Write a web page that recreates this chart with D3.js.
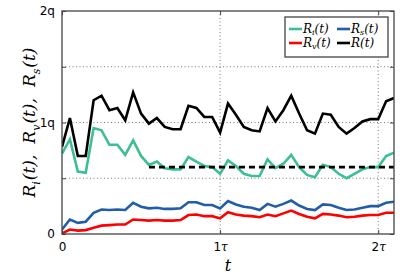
<!DOCTYPE html>
<html>
<head>
<meta charset="utf-8">
<script src="https://cdn.jsdelivr.net/npm/d3@7"></script>
<style>
  body { margin: 0; background: #fff; }
  .tick text { font-family: "DejaVu Sans", sans-serif; font-size: 12px; fill: #000; }
  .math { font-family: "DejaVu Serif", serif; font-style: italic; }
</style>
</head>
<body>
<svg id="chart"></svg>
<script>
// time steps (in units of tau)
const tValues = d3.range(0, 43).map((i) => +(i * 0.05).toFixed(2));

// series values, in units of q
const rTotal = [0.78, 1.04, 0.70, 0.70, 1.20, 1.24, 1.11, 1.13, 1.02, 1.27, 1.08, 0.99, 1.04, 0.96, 0.94, 0.94, 1.15, 1.13, 1.05, 1.05, 0.91, 1.17, 1.07, 0.96, 0.93, 0.92, 1.13, 1.01, 1.11, 1.24, 1.08, 0.93, 0.90, 1.08, 1.07, 0.96, 0.90, 0.95, 1.01, 1.03, 1.03, 1.19, 1.22];
const rI = [0.72, 0.85, 0.56, 0.55, 0.95, 0.93, 0.80, 0.80, 0.71, 0.84, 0.70, 0.62, 0.65, 0.59, 0.58, 0.58, 0.69, 0.65, 0.61, 0.60, 0.54, 0.66, 0.61, 0.54, 0.52, 0.52, 0.67, 0.59, 0.63, 0.71, 0.60, 0.53, 0.51, 0.62, 0.60, 0.54, 0.50, 0.54, 0.58, 0.60, 0.60, 0.70, 0.73];
const rS = [0.04, 0.13, 0.10, 0.11, 0.19, 0.22, 0.215, 0.22, 0.215, 0.28, 0.245, 0.23, 0.235, 0.225, 0.225, 0.23, 0.285, 0.285, 0.26, 0.26, 0.23, 0.295, 0.265, 0.245, 0.235, 0.215, 0.27, 0.245, 0.27, 0.30, 0.255, 0.225, 0.215, 0.265, 0.26, 0.235, 0.215, 0.22, 0.235, 0.25, 0.25, 0.28, 0.29];
const rV = [0.005, 0.04, 0.03, 0.035, 0.055, 0.075, 0.08, 0.085, 0.085, 0.13, 0.125, 0.12, 0.125, 0.12, 0.12, 0.125, 0.17, 0.175, 0.16, 0.16, 0.14, 0.195, 0.175, 0.165, 0.16, 0.15, 0.175, 0.16, 0.185, 0.21, 0.18, 0.155, 0.14, 0.18, 0.175, 0.165, 0.15, 0.155, 0.165, 0.17, 0.17, 0.19, 0.19];

// reference level (dashed)
const refLevel = 0.6;
const refSpan = [0.55, 2.1];

// ticks
const xTicks = [0, 1, 2];
const xTickLabels = ["0", "1τ", "2τ"];
const yTicks = [0, 0.5, 1, 1.5, 2];
const yTickLabels = { 0: "0", 1: "1q", 2: "2q" };

const series = [
  { key: "i", values: rI, color: "#3dbf8f" },
  { key: "s", values: rS, color: "#225ea8" },
  { key: "v", values: rV, color: "#ff0000" },
  { key: "", values: rTotal, color: "#000000" },
];

const W = 415, H = 280;
const margin = { top: 11, right: 21, bottom: 46, left: 62 };
const width = W - margin.left - margin.right;
const height = H - margin.top - margin.bottom;

const svg = d3.select("#chart").attr("width", W).attr("height", H);
const chart = svg.append("g").attr("transform", `translate(${margin.left},${margin.top})`);

const x = d3.scaleLinear().domain([0, 2.1]).range([0, width]);
const y = d3.scaleLinear().domain([0, 2]).range([height, 0]);

svg.append("defs").append("clipPath").attr("id", "clip")
  .append("rect").attr("width", width).attr("height", height);

// grid
chart.append("g").selectAll("line").data(yTicks.filter((d) => d > 0 && d < 2)).join("line")
  .attr("x1", 0).attr("x2", width)
  .attr("y1", (d) => y(d)).attr("y2", (d) => y(d))
  .attr("stroke", "#555").attr("stroke-width", 0.8).attr("stroke-dasharray", "1,2.5");
chart.append("g").selectAll("line").data(xTicks.filter((d) => d > 0)).join("line")
  .attr("x1", (d) => x(d)).attr("x2", (d) => x(d))
  .attr("y1", 0).attr("y2", height)
  .attr("stroke", "#555").attr("stroke-width", 0.8).attr("stroke-dasharray", "1,2.5");

// lines
const line = d3.line().x((d, i) => x(tValues[i])).y((d) => y(d));
const lines = chart.append("g").attr("clip-path", "url(#clip)");
series.forEach((s) => {
  lines.append("path").datum(s.values)
    .attr("fill", "none").attr("stroke", s.color).attr("stroke-width", 2.6)
    .attr("stroke-linejoin", "miter").attr("d", line);
});
lines.append("line")
  .attr("x1", x(refSpan[0])).attr("x2", x(refSpan[1]))
  .attr("y1", y(refLevel)).attr("y2", y(refLevel))
  .attr("stroke", "#000").attr("stroke-width", 2.6).attr("stroke-dasharray", "6,4");

// axes (ticks inward on all sides)
const xAxis = chart.append("g").attr("transform", `translate(0,${height})`)
  .call(d3.axisBottom(x).tickValues(xTicks).tickSize(-4).tickPadding(8)
    .tickFormat((d, i) => xTickLabels[i]));
chart.append("g")
  .call(d3.axisTop(x).tickValues(xTicks).tickSize(-4).tickFormat(""));
chart.append("g")
  .call(d3.axisLeft(y).tickValues(yTicks).tickSize(-4).tickPadding(7)
    .tickFormat((d) => yTickLabels[d] || ""));
chart.append("g").attr("transform", `translate(${width},0)`)
  .call(d3.axisRight(y).tickValues(yTicks).tickSize(-4).tickFormat(""));
chart.selectAll(".domain").remove();
chart.selectAll(".tick line").attr("stroke", "#444");

// tau in serif italic
xAxis.selectAll(".tick text").each(function (d, i) {
  const lab = xTickLabels[i];
  if (lab.length > 1) {
    const t = d3.select(this).text(lab[0]);
    t.append("tspan").attr("class", "math").attr("font-size", 12).text(lab.slice(1));
  }
});

// frame
chart.append("rect").attr("width", width).attr("height", height)
  .attr("fill", "none").attr("stroke", "#444").attr("stroke-width", 1.3);

// axis labels
svg.append("text").attr("class", "math")
  .attr("x", margin.left + x(1.05)).attr("y", 271)
  .attr("text-anchor", "middle").attr("font-size", 16).text("t");

const yLab = svg.append("text").attr("class", "math")
  .attr("transform", `translate(35,${margin.top + height / 2}) rotate(-90)`)
  .attr("text-anchor", "middle").attr("font-size", 17);
[["i", "(t),"], ["v", "(t),"], ["s", "(t)"]].forEach(([sub, rest], k) => {
  yLab.append("tspan").attr("dx", k ? 11 : 0).text("R");
  yLab.append("tspan").attr("font-size", 11).attr("dy", 5).text(sub);
  yLab.append("tspan").attr("dy", -5).attr("dx", 1).text(rest);
});

// legend
const legend = svg.append("g").attr("transform", "translate(285,17)");
legend.append("rect").attr("width", 103).attr("height", 40)
  .attr("fill", "#fff").attr("stroke", "#444").attr("stroke-width", 1.3);
const legendItems = [
  { s: series[0], col: 0, row: 0 },
  { s: series[1], col: 1, row: 0 },
  { s: series[2], col: 0, row: 1 },
  { s: series[3], col: 1, row: 1 },
];
legendItems.forEach(({ s, col, row }) => {
  const g = legend.append("g").attr("transform", `translate(${4 + col * 48},${12 + row * 14})`);
  g.append("line").attr("x1", 0).attr("x2", 13).attr("y1", 0).attr("y2", 0)
    .attr("stroke", s.color).attr("stroke-width", 2.6);
  const t = g.append("text").attr("class", "math").attr("x", 14).attr("y", 4).attr("font-size", 12);
  t.append("tspan").text("R");
  if (s.key) {
    t.append("tspan").attr("font-size", 8).attr("dy", 2).text(s.key);
    t.append("tspan").attr("dy", -2).text("(t)");
  } else {
    t.append("tspan").text("(t)");
  }
});
</script>
</body>
</html>
